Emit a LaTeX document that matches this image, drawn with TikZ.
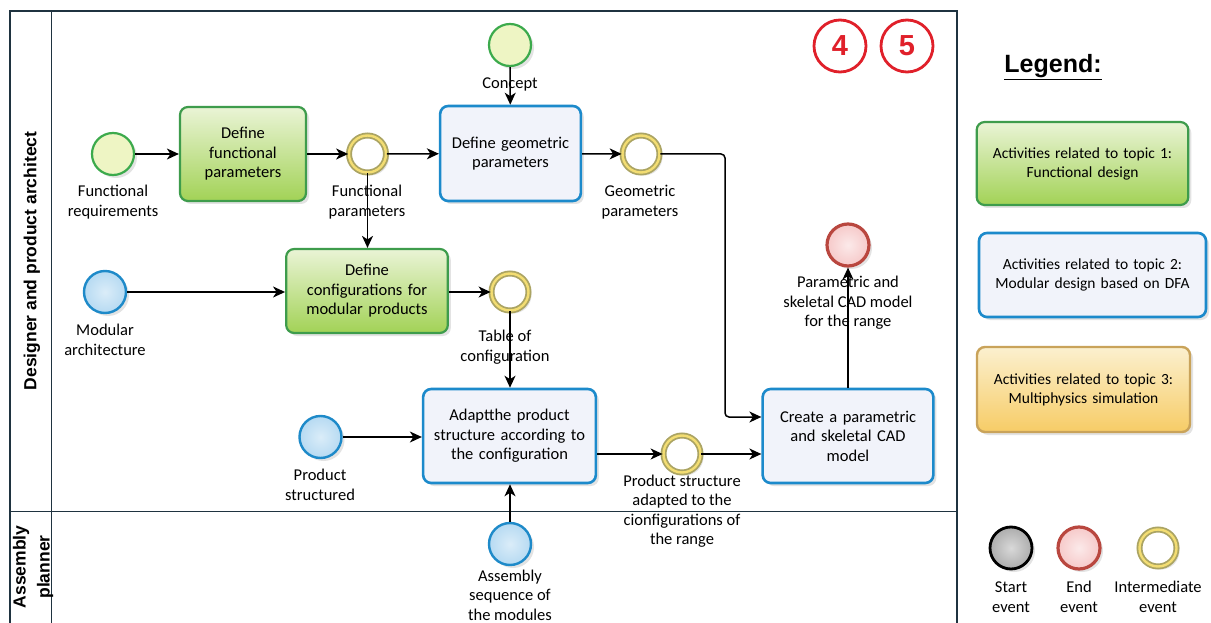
\documentclass[tikz,border=0pt]{standalone}
\usepackage{fontspec}
\setmainfont{Carlito}
\newfontfamily\arialf{Liberation Sans}
\usetikzlibrary{shadows,arrows.meta,calc}
\definecolor{gborder}{HTML}{3E9C4C}
\definecolor{gtop}{HTML}{EAF4D6}
\definecolor{gbot}{HTML}{A2D256}
\definecolor{bborder}{HTML}{1C8ACB}
\definecolor{bfill}{HTML}{F1F3FA}
\definecolor{oborder}{HTML}{C9A35A}
\definecolor{otop}{HTML}{FBF0CF}
\definecolor{obot}{HTML}{F7CC66}
\definecolor{sgborder}{HTML}{3CAA4C}
\definecolor{sgfill}{HTML}{EEF5C4}
\definecolor{sbborder}{HTML}{1E8AC9}
\definecolor{sbfill}{HTML}{B6DAF2}
\definecolor{imring}{HTML}{ABA463}
\definecolor{imin}{HTML}{F3DD72}
\definecolor{endborder}{HTML}{B9473F}
\definecolor{endfill}{HTML}{F6C9C9}
\definecolor{frame}{HTML}{1F3340}
\definecolor{numred}{HTML}{E0202A}
\tikzset{
  txt/.style={font=\fontsize{16.5}{19.5}\selectfont, align=center},
  ltxt/.style={font=\fontsize{15.5}{19}\selectfont, align=center},
  shad/.style={drop shadow={opacity=0.22, shadow xshift=3pt, shadow yshift=-3pt}},
  gbox/.style={shad, rounded corners=8pt, draw=gborder, line width=2.2pt, top color=gtop, bottom color=gbot, txt},
  bbox/.style={shad, rounded corners=8pt, draw=bborder, line width=2.6pt, fill=bfill, txt},
  obox/.style={shad, rounded corners=8pt, draw=oborder, line width=2.4pt, top color=otop, bottom color=obot, txt},
  evt/.style={circle, minimum size=42pt, inner sep=0pt, shad},
  startg/.style={evt, draw=sgborder, line width=2.2pt, fill=sgfill},
  startb/.style={evt, draw=sbborder, line width=2.4pt, inner color=sbfill!50, outer color=sbfill},
  inter/.style={evt, draw=imring, line width=1.8pt, double=imin, double distance=2.4pt, fill=white, minimum size=37pt},
  endev/.style={evt, draw=endborder, line width=3.2pt, inner color=endfill!40, outer color=endfill},
  arr/.style={line width=1.5pt, -{Stealth[length=12pt,width=11pt,inset=3.5pt]}},
  num/.style={circle, draw=numred, line width=2.8pt, minimum size=52pt, inner sep=0pt, text=numred, font=\arialf\bfseries\fontsize{29}{30}\selectfont},
}
\begin{document}
\begin{tikzpicture}[x=1pt,y=-1pt]
\useasboundingbox (0,0) rectangle (1211,623);
\fill[white] (0,0) rectangle (1211,623);
% frame and lanes
\draw[frame, line width=1.3pt] (10,623) -- (10,11) -- (957,11) -- (957,623);
\draw[frame, line width=1pt] (51,11) -- (51,623);
\draw[frame, line width=1pt] (10,511) -- (957,511);
\node[rotate=90, font=\arialf\bfseries\fontsize{17.5}{19}\selectfont] (lane1) at (32,261) {Designer and product architect};
\node[rotate=90, font=\arialf\bfseries\fontsize{17.5}{24}\selectfont, align=center] (lane2) at (33,567) {Assembly\\planner};

% circled numbers
\node[num] (n4) at (840,46) {4};
\node[num] (n5) at (907,46) {5};

% tasks
\node[gbox, minimum width=126pt, minimum height=94pt, text width=115pt] (dfp) at (243,154) {Define\\functional\\parameters};
\node[bbox, minimum width=139pt, minimum height=95pt, text width=134pt] (dgp) at (510.5,153.5) {Define geometric\\parameters};
\node[gbox, minimum width=160pt, minimum height=84pt, text width=155pt] (dcm) at (367,291) {Define\\configurations for\\modular products};
\node[bbox, minimum width=169pt, minimum height=94pt, text width=166pt] (adapt) at (509.5,436) {Adaptthe product\\structure according to\\the configuration};
\node[bbox, minimum width=168pt, minimum height=94pt, text width=164pt] (create) at (848,436) {Create a parametric\\and skeletal CAD\\model};

% events
\node[startg] (fr) at (113,154) {};
\node[inter] (fp) at (367.5,154) {};
\node[startg] (concept) at (510,45) {};
\node[inter] (gp) at (641,154) {};
\node[startb] (ma) at (105,292) {};
\node[inter] (tc) at (510,292) {};
\node[startb] (ps) at (320.5,437) {};
\node[inter] (psa) at (682,454) {};
\node[endev] (endr) at (848,245) {};
\node[startb] (asm) at (510,544) {};

% labels
\node[txt] (lfr) at (113,202) {Functional\\requirements};
\node[txt] (lfp) at (367,202) {Functional\\parameters};
\node[txt] (lconcept) at (510,84) {Concept};
\node[txt] (lgp) at (640,202) {Geometric\\parameters};
\node[txt] (lma) at (105,340) {Modular\\architecture};
\node[txt] (ltc) at (505,347) {Table of\\configuration};
\node[txt] (lps) at (320,485) {Product\\structured};
\node[txt] (lpsa) at (682,511) {Product structure\\adapted to the\\cionfigurations of\\the range};
\node[txt] (lend) at (848,303) {Parametric and\\skeletal CAD model\\for the range};
\node[txt] (lasm) at (510,595) {Assembly\\sequence of\\the modules};

% connectors
\draw[arr] (fr) -- (dfp);
\draw[arr] (dfp) -- (fp);
\draw[arr] (fp) -- (dgp);
\draw[arr] (concept) -- (dgp);
\draw[arr] (dgp) -- (gp);
\coordinate (c1) at (725,154);
\coordinate (c2) at (725,417);
\draw[arr, rounded corners=4pt] (gp) -- (c1) -- (c2) -- (create.west |- c2);
\draw[arr] (fp) -- (dcm.north -| fp);
\draw[arr] (ma) -- (dcm.west |- ma);
\draw[arr] (dcm.east |- tc) -- (tc);
\draw[arr] (tc) -- (adapt.north -| tc);
\draw[arr] (ps) -- (adapt.west |- ps);
\draw[arr] (asm) -- (adapt.south -| asm);
\draw[arr] (adapt.east |- psa) -- (psa);
\draw[arr] (psa) -- (create.west |- psa);
\draw[arr] (create.north -| endr) -- (endr);

% legend
\node[font=\arialf\bfseries\fontsize{25}{26}\selectfont, inner sep=0pt] (leg) at (1053,67) {\underline{Legend:}};
\node[gbox, minimum width=211pt, minimum height=83pt, text width=205pt, ltxt] (lg1) at (1082.5,163.5) {Activities related to topic 1:\\Functional design};
\node[bbox, minimum width=227pt, minimum height=84pt, text width=220pt, ltxt] (lg2) at (1092.5,275) {Activities related to topic 2:\\Modular design based on DFA};
\node[obox, minimum width=213pt, minimum height=85pt, text width=205pt, ltxt] (lg3) at (1083.5,389.5) {Activities related to topic 3:\\Multiphysics simulation};
\node[evt, draw=black, line width=2.8pt, inner color=gray!30, outer color=gray!65] (lstart) at (1011,548) {};
\node[endev] (lendev) at (1079,548) {};
\node[inter] (linter) at (1158,548) {};
\node[txt] (llstart) at (1011,597) {Start\\event};
\node[txt] (llend) at (1079,597) {End\\event};
\node[txt] (llinter) at (1158,597) {Intermediate\\event};
\end{tikzpicture}
\end{document}
